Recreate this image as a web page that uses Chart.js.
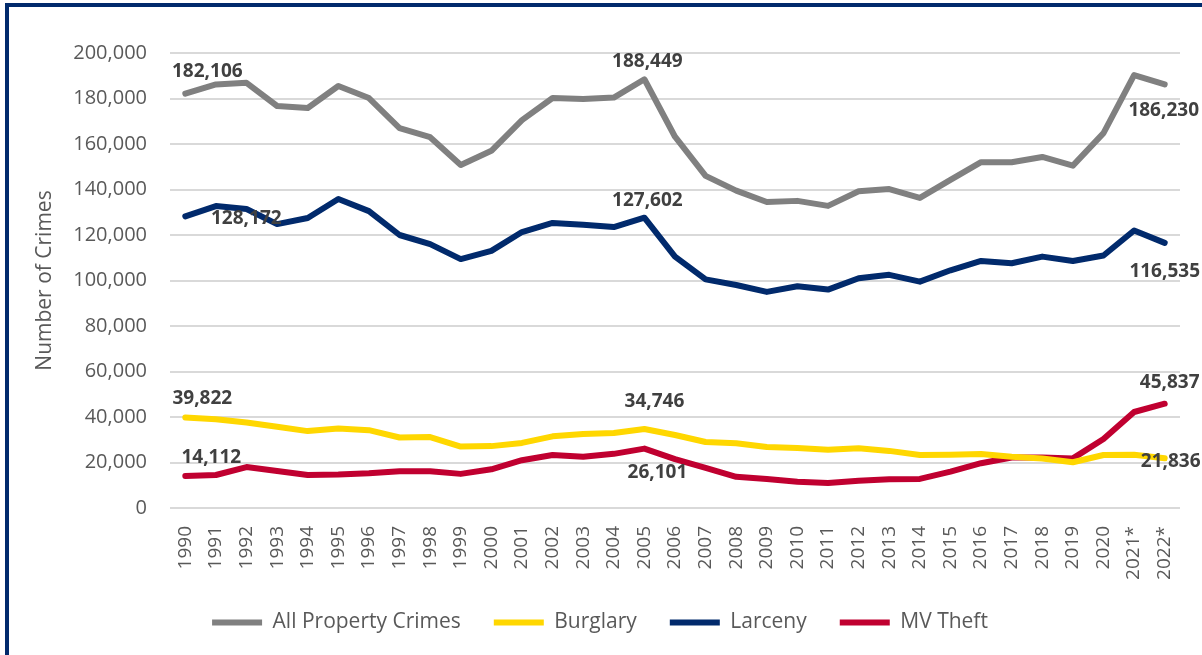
<!DOCTYPE html>
<html>
<head>
<meta charset="utf-8">
<script src="https://cdn.jsdelivr.net/npm/chart.js@4"></script>
<style>
  html, body { margin: 0; padding: 0; background: #fff; }
  #wrap { position: relative; width: 1202px; height: 655px; overflow: hidden; }
  #frame { position: absolute; left: 5px; top: 3px; width: 1300px; height: 700px;
           border-left: 4px solid #012a6c; border-top: 4px solid #012a6c; }
  canvas { position: absolute; left: 0; top: 0; }
</style>
</head>
<body>
<div id="wrap">
  <canvas id="c" width="1202" height="655"></canvas>
  <div id="frame"></div>
</div>
<script>
// ── data ─────────────────────────────────────────────────────────
const years = ['1990','1991','1992','1993','1994','1995','1996','1997','1998','1999',
  '2000','2001','2002','2003','2004','2005','2006','2007','2008','2009','2010','2011',
  '2012','2013','2014','2015','2016','2017','2018','2019','2020','2021*','2022*'];

const allProperty = [182106, 186200, 186900, 176700, 175800, 185500, 180200, 167000, 163000, 150800,
  157000, 170500, 180200, 179800, 180400, 188449, 163200, 146000, 139500, 134500, 135000, 132800,
  139200, 140200, 136300, 144200, 152000, 152000, 154300, 150500, 164800, 190300, 186230];

const burglary = [39822, 39000, 37600, 35700, 33800, 34900, 34200, 31000, 31200, 27000,
  27200, 28600, 31500, 32500, 33000, 34746, 32100, 29000, 28500, 26800, 26400, 25600,
  26300, 25100, 23300, 23400, 23700, 22500, 21800, 20100, 23300, 23400, 21836];

const larceny = [128172, 132700, 131400, 124800, 127500, 135800, 130500, 120000, 116000, 109400,
  113000, 121300, 125300, 124500, 123500, 127602, 110500, 100500, 98000, 95000, 97500, 96000,
  101000, 102500, 99500, 104500, 108600, 107600, 110500, 108600, 111000, 122000, 116535];

const mvTheft = [14112, 14500, 18000, 16300, 14500, 14700, 15300, 16200, 16200, 15000,
  17000, 21000, 23300, 22500, 23800, 26101, 21500, 17600, 13700, 12700, 11500, 11000,
  12000, 12600, 12800, 16000, 19700, 22200, 22200, 21800, 30300, 42200, 45837];

const seriesNames  = ['All Property Crimes', 'Burglary', 'Larceny', 'MV Theft'];
const seriesValues = [allProperty, burglary, larceny, mvTheft];
const seriesColors = ['#808080', '#ffd700', '#012a6c', '#c00030'];

// which points carry a value label: [series, yearIndex, dx, dy] (px offset from point)
const labelSpots = [
  [0, 0, 22, -22], [0, 15, 3, -18], [0, 32, -1, 26],
  [2, 0, 61, 2],   [2, 15, 3, -17], [2, 32, 0, 29],
  [1, 0, 17, -19], [1, 15, 10, -27], [1, 32, 6, 3],
  [3, 0, 26, -18], [3, 15, 13, 24], [3, 32, 5, -21],
];

const fmtN = v => v.toLocaleString('en-US');
const FONT = '"Open Sans", Lato, sans-serif';

// ── value labels ─────────────────────────────────────────────────
const pointLabels = {
  id: 'pointLabels',
  afterDatasetsDraw(chart) {
    const { ctx } = chart;
    ctx.save();
    ctx.font = `bold 19px ${FONT}`;
    ctx.fillStyle = '#404040';
    ctx.textAlign = 'center';
    ctx.textBaseline = 'middle';
    labelSpots.forEach(([s, i, dx, dy]) => {
      const pt = chart.getDatasetMeta(s).data[i];
      ctx.fillText(fmtN(seriesValues[s][i]), pt.x + dx, pt.y + dy);
    });
    ctx.restore();
  },
};

// legend box gets a fixed height so the plot keeps its size
const legendHeight = {
  id: 'legendHeight',
  afterInit(chart) {
    const lg = chart.legend;
    const fit = lg.fit;
    lg.fit = function () { fit.call(this); this.height = 76; };
  },
};

new Chart(document.getElementById('c'), {
  type: 'line',
  data: {
    labels: years,
    datasets: seriesNames.map((name, k) => ({
      label: name,
      data: seriesValues[k],
      borderColor: seriesColors[k],
      backgroundColor: seriesColors[k],
      borderWidth: 6,
      borderCapStyle: 'round',
      borderJoinStyle: 'round',
      pointRadius: 0,
      tension: 0,
      fill: false,
    })),
  },
  options: {
    responsive: false,
    animation: false,
    layout: { padding: { left: 20, right: 22, top: 53, bottom: 0 } },
    scales: {
      x: {
        offset: true,
        grid: { display: false },
        border: { display: false },
        ticks: {
          color: '#595959', font: { family: FONT, size: 19 },
          maxRotation: 90, minRotation: 90, padding: 10, autoSkip: false,
        },
        afterFit: s => { s.height = 71; },
      },
      y: {
        min: 0, max: 200000,
        grid: { color: '#d9d9d9', lineWidth: 2, drawTicks: false },
        border: { display: false },
        ticks: {
          stepSize: 20000, padding: 23,
          color: '#595959', font: { family: FONT, size: 20 },
          callback: v => fmtN(v),
        },
        title: {
          display: true, text: 'Number of Crimes',
          color: '#595959', font: { family: FONT, size: 21 },
          padding: { top: 12, bottom: 0 },
        },
        afterFit: s => { s.width = 150; },
      },
    },
    plugins: {
      tooltip: { enabled: false },
      legend: {
        position: 'bottom',
        labels: {
          usePointStyle: true, pointStyle: 'line', pointStyleWidth: 50,
          padding: 33, color: '#595959', font: { family: FONT, size: 21 },
        },
      },
    },
  },
  plugins: [pointLabels, legendHeight],
});
</script>
</body>
</html>
